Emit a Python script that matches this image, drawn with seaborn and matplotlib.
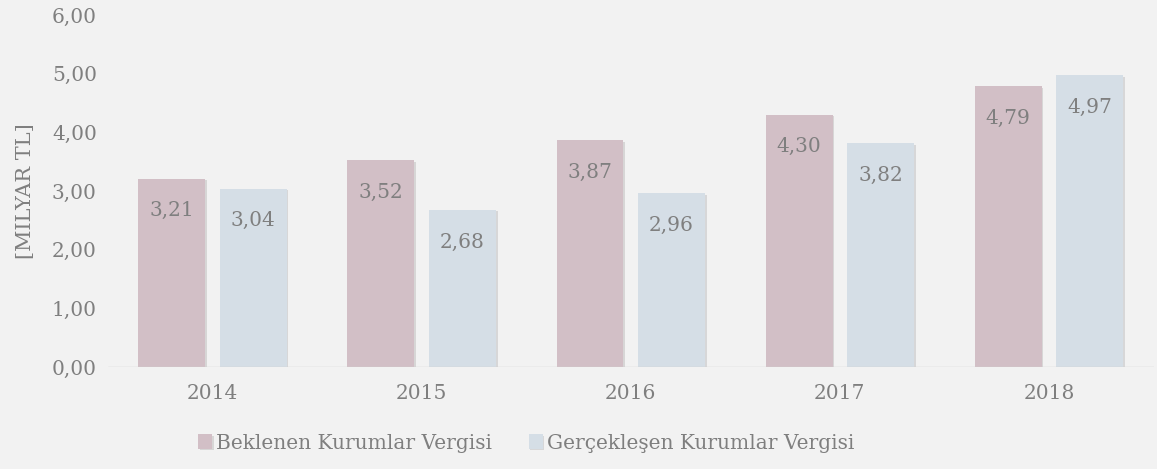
import matplotlib
matplotlib.use("Agg")
import matplotlib.pyplot as plt
import matplotlib.patheffects as pe
import pandas as pd
import seaborn as sns

years = ["2014", "2015", "2016", "2017", "2018"]
beklenen = [3.21, 3.52, 3.87, 4.30, 4.79]
gerceklesen = [3.04, 2.68, 2.96, 3.82, 4.97]
series = ["Beklenen Kurumlar Vergisi", "Gerçekleşen Kurumlar Vergisi"]
colors = ["#d2bfc6", "#d5dee6"]
text_gray = "#7f7f7f"
bg = "#f2f2f2"

df = pd.DataFrame({
    "year": years * 2,
    "value": beklenen + gerceklesen,
    "series": [series[0]] * len(years) + [series[1]] * len(years),
})

sns.set_style("white")
plt.rcParams["font.family"] = ["DejaVu Serif"]

fig = plt.figure(figsize=(11.57, 4.69), dpi=100, facecolor=bg)
ax = fig.add_axes([0.0933, 0.2175, 0.9037, 0.7505])
ax.set_facecolor(bg)

sns.barplot(data=df, x="year", y="value", hue="series", palette=colors,
            width=0.78, gap=0.18, ax=ax, saturation=1, legend=True,
            linewidth=0, edgecolor="none")

for patch in ax.patches:
    patch.set_path_effects([pe.SimplePatchShadow(offset=(1.2, -1.2), alpha=0.15), pe.Normal()])

for cont in ax.containers:
    labels = [f"{v:.2f}".replace(".", ",") for v in cont.datavalues]
    ax.bar_label(cont, labels=labels, label_type="edge", padding=-30,
                 color=text_gray, fontsize=14.5)

ax.set_ylim(0, 6)
ax.set_xlim(-0.5, 4.5)
ax.set_yticks(range(7))
ax.set_yticklabels([f"{v},00" for v in range(7)])
ax.axhline(0, color="#d0d0d0", lw=1)
for s in ax.spines.values():
    s.set_visible(False)
ax.tick_params(axis="both", length=0, colors=text_gray, labelsize=14.5, pad=8)
ax.tick_params(axis="x", pad=12)
ax.set_xlabel("")
ax.set_ylabel("[MILYAR TL]", color=text_gray, fontsize=15, labelpad=12)

leg = ax.legend(loc="center", bbox_to_anchor=(0.40, -0.216), ncol=2,
                frameon=False, fontsize=14.5, handlelength=0.7, handleheight=0.7,
                handletextpad=0.2, columnspacing=1.8)
for t in leg.get_texts():
    t.set_color(text_gray)

fig.savefig("out.png", dpi=100, facecolor=bg)
